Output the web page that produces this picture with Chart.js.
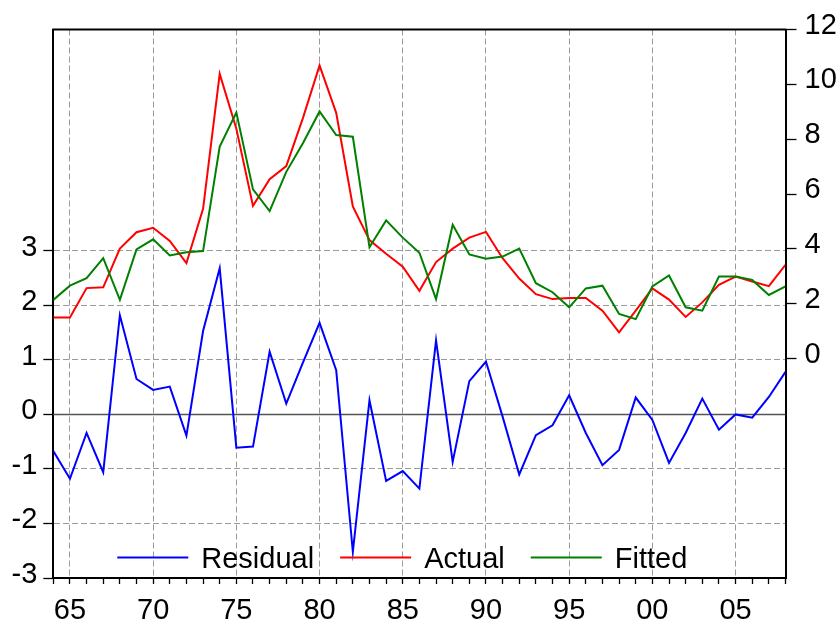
<!DOCTYPE html>
<html>
<head>
<meta charset="utf-8">
<script src="https://cdn.jsdelivr.net/npm/chart.js@4/dist/chart.umd.min.js"></script>
<style>
html,body{margin:0;padding:0;background:#fff;}
#wrap{width:840px;height:623px;}
</style>
</head>
<body>
<div id="wrap"><canvas id="c" width="840" height="623"></canvas></div>
<script>
const years = [1964,1965,1966,1967,1968,1969,1970,1971,1972,1973,1974,1975,1976,1977,1978,1979,1980,1981,1982,1983,1984,1985,1986,1987,1988,1989,1990,1991,1992,1993,1994,1995,1996,1997,1998,1999,2000,2001,2002,2003,2004,2005,2006,2007,2008];
const actual = [1.50,1.50,2.57,2.60,4.01,4.61,4.77,4.29,3.48,5.46,10.38,8.38,5.57,6.54,7.02,8.77,10.69,8.96,5.55,4.32,3.82,3.35,2.47,3.52,4.01,4.41,4.62,3.66,2.92,2.35,2.17,2.21,2.21,1.75,0.96,1.75,2.56,2.15,1.52,2.05,2.69,2.99,2.81,2.64,3.42];
const fitted = [2.14,2.66,2.93,3.66,2.14,3.98,4.35,3.76,3.88,3.92,7.73,8.97,6.17,5.38,6.81,7.85,9.01,8.15,8.09,4.06,5.04,4.41,3.86,2.17,4.88,3.80,3.64,3.72,4.01,2.75,2.42,1.87,2.56,2.66,1.63,1.44,2.63,3.03,1.87,1.75,2.99,2.99,2.87,2.32,2.63];
const residual = [-0.67,-1.18,-0.34,-1.06,1.82,0.65,0.45,0.51,-0.39,1.53,2.68,-0.61,-0.59,1.15,0.20,0.95,1.68,0.81,-2.52,0.26,-1.22,-1.04,-1.36,1.36,-0.87,0.61,0.97,-0.04,-1.10,-0.38,-0.20,0.35,-0.34,-0.93,-0.65,0.31,-0.10,-0.89,-0.34,0.29,-0.28,0.00,-0.06,0.32,0.78];
const leftTicks = [-3,-2,-1,0,1,2,3];
const rightTicks = [0,2,4,6,8,10,12];
const seriesNames = ['Residual','Actual','Fitted'];
const seriesColors = ['#0000FF','#FF0000','#008000'];

const FONT = {family:'"Liberation Sans", Arial, sans-serif', size:29, lineHeight:1.2};

function pts(arr){ return years.map((y,i)=>({x:y,y:arr[i]})); }

const framePlugin = {
  id:'frame',
  beforeDatasetsDraw(chart){
    const {ctx, chartArea:a} = chart;
    const yL = chart.scales.yL;
    const z = yL.getPixelForValue(0);
    ctx.save();
    ctx.strokeStyle = '#555';
    ctx.lineWidth = 1.5;
    ctx.beginPath(); ctx.moveTo(a.left, z); ctx.lineTo(a.right, z); ctx.stroke();
    ctx.restore();
  },
  afterDraw(chart){
    const {ctx, chartArea:a} = chart;
    ctx.save();
    ctx.strokeStyle = '#000';
    ctx.lineWidth = 2;
    ctx.beginPath(); ctx.moveTo(a.left-1, a.top); ctx.lineTo(a.right+1, a.top); ctx.stroke();
    // legend
    ctx.font = '29px "Liberation Sans", Arial, sans-serif';
    ctx.textBaseline = 'alphabetic';
    ctx.textAlign = 'left';
    let x = a.left + 64;
    const yLine = a.bottom - 20.5;
    const yText = a.bottom - 9.7;
    chart.data.datasets.forEach(ds=>{
      ctx.strokeStyle = ds.borderColor;
      ctx.lineWidth = 2;
      ctx.beginPath(); ctx.moveTo(x, yLine); ctx.lineTo(x+71, yLine); ctx.stroke();
      x += 71 + 13;
      ctx.fillStyle = '#000';
      ctx.fillText(ds.label, x, yText);
      x += ctx.measureText(ds.label).width + 26;
    });
    ctx.restore();
  }
};

new Chart(document.getElementById('c'), {
  type:'line',
  data:{
    datasets:[
      {label:seriesNames[0], data:pts(residual), borderColor:seriesColors[0], yAxisID:'yL', order:3},
      {label:seriesNames[1], data:pts(actual), borderColor:seriesColors[1], yAxisID:'yR', order:2},
      {label:seriesNames[2], data:pts(fitted), borderColor:seriesColors[2], yAxisID:'yR', order:1}
    ]
  },
  options:{
    responsive:false,
    animation:false,
    devicePixelRatio:1,
    layout:{padding:{top:29.5,left:0,right:0,bottom:0}},
    elements:{line:{borderWidth:2,tension:0,fill:false}, point:{radius:0}},
    plugins:{legend:{display:false}, tooltip:{enabled:false}},
    scales:{
      x:{
        type:'linear', position:'bottom', min:1964, max:2008,
        afterBuildTicks(s){ s.ticks = years.map(v=>({value:v})); },
        afterFit(s){ s.height = 45; },
        ticks:{autoSkip:false, maxRotation:0, minRotation:0, color:'#000', font:FONT, padding:10,
          callback:(v)=> (v%5===0 ? String(v).slice(2) : '')},
        grid:{
          color:(c)=> (c.tick && c.tick.value%5===0 && c.tick.value>1964 && c.tick.value<2008) ? '#9a9a9a' : 'rgba(0,0,0,0)',
          lineWidth:1, tickLength:6, tickColor:'#000', tickWidth:1.3, drawTicks:true
        },
        border:{display:true, color:'#000', width:2, dash:[6,3]}
      },
      yL:{
        type:'linear', position:'left', min:-3, max:7.06,
        afterBuildTicks(s){ s.ticks = leftTicks.map(v=>({value:v})); },
        afterFit(s){ s.width = 53.3; },
        ticks:{color:'#000', font:FONT, padding:6, labelOffset:-3},
        grid:{color:(c)=> (c.tick && c.tick.value===-3) ? 'rgba(0,0,0,0)' : '#9a9a9a', lineWidth:1, tickLength:10, tickColor:'#000', tickWidth:1.3},
        border:{display:true, color:'#000', width:2, dash:[6,3]}
      },
      yR:{
        type:'linear', position:'right', min:-8, max:12,
        afterBuildTicks(s){ s.ticks = rightTicks.map(v=>({value:v})); },
        afterFit(s){ s.width = 54.5; },
        ticks:{color:'#000', font:FONT, padding:8, labelOffset:-4},
        grid:{drawOnChartArea:false, tickLength:11, tickColor:'#000', tickWidth:1.3},
        border:{display:true, color:'#000', width:2}
      }
    }
  },
  plugins:[framePlugin]
});
</script>
</body>
</html>
